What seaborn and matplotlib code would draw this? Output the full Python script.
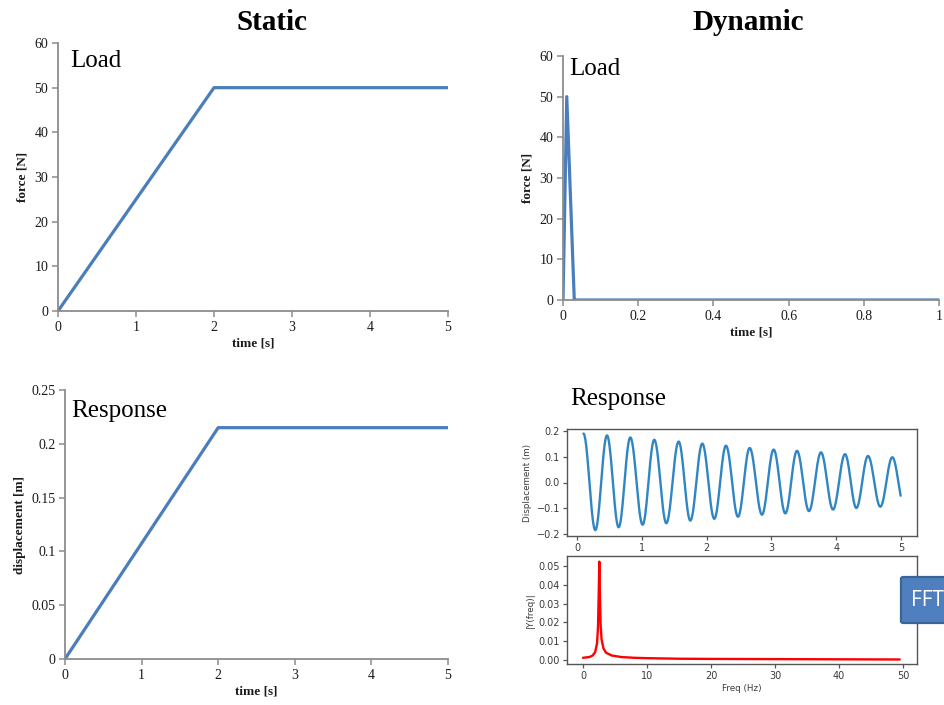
import numpy as np
import pandas as pd
import matplotlib
matplotlib.use("Agg")
import matplotlib.pyplot as plt
from matplotlib.patches import FancyBboxPatch
import seaborn as sns

# ---- data -------------------------------------------------------------
static_time = [0, 2, 5]
static_force = [0, 50, 50]
static_disp = [0, 0.215, 0.215]

dyn_time = [0, 0.01, 0.03, 1.0]
dyn_force = [0, 50, 0, 0]

# turning points of the dynamic displacement record (time [s], displacement [m])
resp_ext_t = [0.10, 0.283, 0.463, 0.643, 0.823, 1.013, 1.193, 1.379, 1.569,
              1.749, 1.934, 2.119, 2.299, 2.485, 2.665, 2.855, 3.035, 3.215,
              3.395, 3.580, 3.765, 3.951, 4.136, 4.311, 4.491, 4.681, 4.866, 5.05]
resp_ext_y = [0.190, -0.185, 0.183, -0.174, 0.175, -0.164, 0.166, -0.158, 0.159,
              -0.148, 0.151, -0.141, 0.143, -0.133, 0.134, -0.125, 0.128, -0.120,
              0.123, -0.111, 0.117, -0.105, 0.110, -0.099, 0.103, -0.094, 0.098, -0.090]
resp_t_end = 5.0

fft_freq = [0, 1.0, 1.5, 1.9, 2.2, 2.35, 2.45, 2.55, 2.65, 2.75, 2.9, 3.2,
            3.6, 4.5, 6, 8, 10, 15, 20, 30, 40, 49.5]
fft_amp = [0.0012, 0.0016, 0.0024, 0.0042, 0.009, 0.018, 0.034, 0.0523, 0.033,
           0.019, 0.011, 0.0062, 0.0039, 0.0024, 0.0016, 0.0012, 0.0010, 0.0007,
           0.0006, 0.0005, 0.0004, 0.0003]

# ---- styling ----------------------------------------------------------
sns.set_theme(style="white")
plt.rcParams["font.family"] = ["Liberation Serif", "DejaVu Serif"]

W, H = 945, 705
fig = plt.figure(figsize=(W / 100, H / 100), dpi=100)

LINE = "#4A7EBB"
SPINE = "#8C8C8C"
TXT = "#1a1a1a"


def px_axes(x0, y0, x1, y1):
    return fig.add_axes([x0 / W, 1 - y1 / H, (x1 - x0) / W, (y1 - y0) / H])


def fig_text(x, y, s, **kw):
    return fig.text(x / W, 1 - y / H, s, **kw)


def excel_style(ax, xlabel, ylabel):
    for side in ("top", "right"):
        ax.spines[side].set_visible(False)
    for side in ("left", "bottom"):
        ax.spines[side].set_color(SPINE)
        ax.spines[side].set_linewidth(1.3)
    ax.tick_params(axis="both", which="major", direction="out", length=4,
                   width=1.1, color=SPINE, labelsize=10, labelcolor=TXT,
                   bottom=True, left=True, pad=3)
    ax.set_xlabel(xlabel, fontsize=9.5, fontweight="bold", color=TXT, labelpad=3)
    ax.set_ylabel(ylabel, fontsize=9.5, fontweight="bold", color=TXT, labelpad=4)
    ax.grid(False)


# static load
ax1 = px_axes(58, 43, 448, 311)
sns.lineplot(x=static_time, y=static_force, ax=ax1, color=LINE, linewidth=2.3)
ax1.set_xlim(0, 5)
ax1.set_ylim(0, 60)
ax1.set_xticks(range(0, 6))
ax1.set_yticks(range(0, 61, 10))
excel_style(ax1, "time [s]", "force [N]")

# static response
ax2 = px_axes(65, 390, 448, 659)
sns.lineplot(x=static_time, y=static_disp, ax=ax2, color=LINE, linewidth=2.3)
ax2.set_xlim(0, 5)
ax2.set_ylim(0, 0.25)
ax2.set_xticks(range(0, 6))
ax2.set_yticks([0, 0.05, 0.1, 0.15, 0.2, 0.25])
ax2.set_yticklabels(["0", "0.05", "0.1", "0.15", "0.2", "0.25"])
excel_style(ax2, "time [s]", "displacement [m]")

# dynamic load
ax3 = px_axes(563, 56, 939, 300)
sns.lineplot(x=dyn_time, y=dyn_force, ax=ax3, color=LINE, linewidth=2.3,
             sort=False)
ax3.set_xlim(0, 1)
ax3.set_ylim(0, 60)
ax3.set_xticks([0, 0.2, 0.4, 0.6, 0.8, 1.0])
ax3.set_xticklabels(["0", "0.2", "0.4", "0.6", "0.8", "1"])
ax3.set_yticks(range(0, 61, 10))
excel_style(ax3, "time [s]", "force [N]")

# titles and panel captions
fig_text(272, 23, "Static", fontsize=21, fontweight="bold", ha="center",
         va="center", color="black")
fig_text(748, 23, "Dynamic", fontsize=21, fontweight="bold", ha="center",
         va="center", color="black")
fig_text(70, 61, "Load", fontsize=18, ha="left", va="center", color="black")
fig_text(569, 69, "Load", fontsize=18, ha="left", va="center", color="black")
fig_text(71, 411, "Response", fontsize=18, ha="left", va="center", color="black")
fig_text(570, 399, "Response", fontsize=18, ha="left", va="center", color="black")

# ---- dynamic response (matplotlib-style inset panels) -----------------
SANS = ["DejaVu Sans"]
SMALL = 7
GREY = "#3a3a3a"


def mpl_style(ax):
    for s in ax.spines.values():
        s.set_visible(True)
        s.set_color("#555555")
        s.set_linewidth(1.0)
    ax.tick_params(axis="both", direction="out", length=3, width=0.9,
                   color="#555555", labelsize=SMALL, labelcolor=GREY,
                   bottom=True, left=True, pad=2)
    for lab in ax.get_xticklabels() + ax.get_yticklabels():
        lab.set_family(SANS)
    ax.grid(False)


# smooth record through the turning points
seg_t, seg_y = [], []
for i in range(len(resp_ext_t) - 1):
    ta, tb = resp_ext_t[i], resp_ext_t[i + 1]
    ya, yb = resp_ext_y[i], resp_ext_y[i + 1]
    tt = np.linspace(ta, tb, 30, endpoint=False)
    yy = (ya + yb) / 2 + (ya - yb) / 2 * np.cos(np.pi * (tt - ta) / (tb - ta))
    seg_t.append(tt)
    seg_y.append(yy)
resp_t = np.concatenate(seg_t)
resp_y = np.concatenate(seg_y)
keep = resp_t <= resp_t_end
resp_df = pd.DataFrame({"t": resp_t[keep], "y": resp_y[keep]})

ax4 = px_axes(567, 429, 917, 536)
sns.lineplot(data=resp_df, x="t", y="y", ax=ax4, color="#2f86c2", linewidth=1.7)
ax4.set_xlim(-0.154, 5.247)
ax4.set_ylim(-0.2078, 0.2078)
ax4.set_xticks([0, 1, 2, 3, 4, 5])
ax4.set_yticks([-0.2, -0.1, 0.0, 0.1, 0.2])
ax4.set_yticklabels(["\u22120.2", "\u22120.1", "0.0", "0.1", "0.2"])
ax4.set_xlabel("Time (s)", fontsize=6.3, family=SANS, color=GREY, labelpad=2)
ax4.set_ylabel("Displacement (m)", fontsize=6.3, family=SANS, color=GREY,
               labelpad=3)
mpl_style(ax4)

ax5 = px_axes(567, 556, 917, 664)
ax5.set_facecolor("white")
ax5.set_zorder(ax4.get_zorder() + 1)
sns.lineplot(x=fft_freq, y=fft_amp, ax=ax5, color="red", linewidth=1.7)
ax5.set_xlim(-2.5, 52.2)
ax5.set_ylim(-0.0021, 0.0553)
ax5.set_xticks([0, 10, 20, 30, 40, 50])
ax5.set_yticks([0, 0.01, 0.02, 0.03, 0.04, 0.05])
ax5.set_yticklabels(["0.00", "0.01", "0.02", "0.03", "0.04", "0.05"])
ax5.set_xlabel("Freq (Hz)", fontsize=6.3, family=SANS, color=GREY, labelpad=2)
ax5.set_ylabel("|Y(freq)|", fontsize=6.3, family=SANS, color=GREY, labelpad=3)
mpl_style(ax5)

# FFT tag box
box = FancyBboxPatch((901 / W, 1 - 623 / H), 60 / W, 46 / H,
                     boxstyle="round,pad=0,rounding_size=0.0025",
                     transform=fig.transFigure, facecolor="#4F7FBF",
                     edgecolor="#3A6496", linewidth=1.6, zorder=10)
fig.add_artist(box)
t = fig_text(911, 600, "FFT", fontsize=15, family=["Open Sans", "DejaVu Sans"],
             color="white", ha="left", va="center")
t.set_zorder(11)

fig.savefig("out.png", dpi=100)
